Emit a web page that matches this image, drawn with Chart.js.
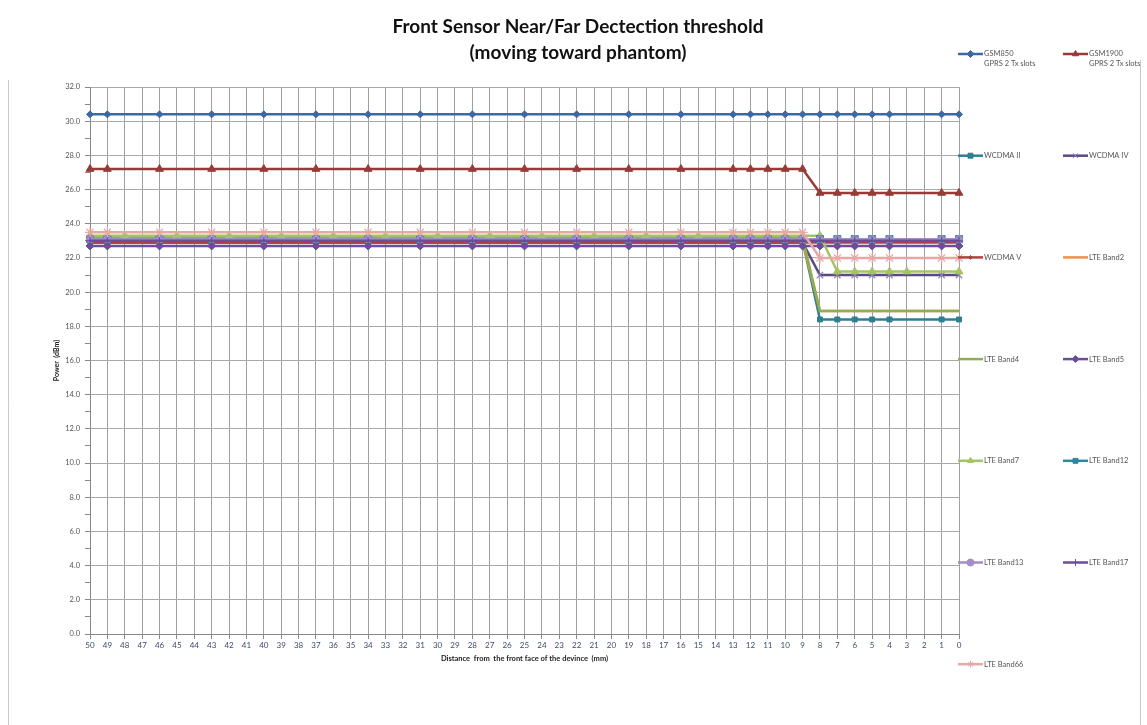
<!DOCTYPE html>
<html>
<head>
<meta charset="utf-8">
<script src="https://cdn.jsdelivr.net/npm/chart.js@4"></script>
<style>
	html, body { margin: 0; padding: 0; background: #fff; }
	#wrap { width: 1147px; height: 725px; position: relative; }
</style>
</head>
<body>
<div id="wrap"><canvas id="sensorChart"></canvas></div>
<script>
// distance labels, 50 mm down to 0 mm
const distances = [ 50, 49, 48, 47, 46, 45, 44, 43, 42, 41, 40, 39, 38, 37, 36, 35, 34, 33, 32, 31, 30, 29, 28, 27, 26,
	25, 24, 23, 22, 21, 20, 19, 18, 17, 16, 15, 14, 13, 12, 11, 10, 9, 8, 7, 6, 5, 4, 3, 2, 1, 0 ]
const yTicks = [ 0, 2, 4, 6, 8, 10, 12, 14, 16, 18, 20, 22, 24, 26, 28, 30, 32 ]

// measured distances (most bands) and the LTE Band7 set
const measuredAt = [ 50, 49, 46, 43, 40, 37, 34, 31, 28, 25, 22, 19, 16, 13, 12, 11, 10, 9, 8, 7, 6, 5, 4, 1, 0 ]
const band7At = [ 50, 48, 45, 42, 39, 36, 33, 30, 27, 24, 21, 18, 15, 12, 11, 10, 9, 8, 7, 6, 5, 4, 3, 0 ]

// power (dBm) per measured distance
const gsm850 = [ 30.4, 30.4, 30.4, 30.4, 30.4, 30.4, 30.4, 30.4, 30.4, 30.4, 30.4, 30.4, 30.4, 30.4, 30.4, 30.4, 30.4, 30.4, 30.4, 30.4, 30.4, 30.4, 30.4, 30.4, 30.4 ]
const gsm1900 = [ 27.2, 27.2, 27.2, 27.2, 27.2, 27.2, 27.2, 27.2, 27.2, 27.2, 27.2, 27.2, 27.2, 27.2, 27.2, 27.2, 27.2, 27.2, 25.8, 25.8, 25.8, 25.8, 25.8, 25.8, 25.8 ]
const wcdma2 = [ 23.0, 23.0, 23.0, 23.0, 23.0, 23.0, 23.0, 23.0, 23.0, 23.0, 23.0, 23.0, 23.0, 23.0, 23.0, 23.0, 23.0, 23.0, 18.4, 18.4, 18.4, 18.4, 18.4, 18.4, 18.4 ]
const wcdma4 = [ 22.9, 22.9, 22.9, 22.9, 22.9, 22.9, 22.9, 22.9, 22.9, 22.9, 22.9, 22.9, 22.9, 22.9, 22.9, 22.9, 22.9, 22.9, 21.0, 21.0, 21.0, 21.0, 21.0, 21.0, 21.0 ]
const wcdma5 = [ 22.9, 22.9, 22.9, 22.9, 22.9, 22.9, 22.9, 22.9, 22.9, 22.9, 22.9, 22.9, 22.9, 22.9, 22.9, 22.9, 22.9, 22.9, 22.9, 22.9, 22.9, 22.9, 22.9, 22.9, 22.9 ]
const lteBand2 = [ 23.0, 23.0, 23.0, 23.0, 23.0, 23.0, 23.0, 23.0, 23.0, 23.0, 23.0, 23.0, 23.0, 23.0, 23.0, 23.0, 23.0, 23.0, 18.9, 18.9, 18.9, 18.9, 18.9, 18.9, 18.9 ]
const lteBand4 = [ 23.2, 23.2, 23.2, 23.2, 23.2, 23.2, 23.2, 23.2, 23.2, 23.2, 23.2, 23.2, 23.2, 23.2, 23.2, 23.2, 23.2, 23.2, 18.9, 18.9, 18.9, 18.9, 18.9, 18.9, 18.9 ]
const lteBand5 = [ 22.7, 22.7, 22.7, 22.7, 22.7, 22.7, 22.7, 22.7, 22.7, 22.7, 22.7, 22.7, 22.7, 22.7, 22.7, 22.7, 22.7, 22.7, 22.7, 22.7, 22.7, 22.7, 22.7, 22.7, 22.7 ]
const lteBand7 = [ 23.3, 23.3, 23.3, 23.3, 23.3, 23.3, 23.3, 23.3, 23.3, 23.3, 23.3, 23.3, 23.3, 23.3, 23.3, 23.3, 23.3, 23.3, 21.2, 21.2, 21.2, 21.2, 21.2, 21.2 ]
const lteBand12 = [ 23.1, 23.1, 23.1, 23.1, 23.1, 23.1, 23.1, 23.1, 23.1, 23.1, 23.1, 23.1, 23.1, 23.1, 23.1, 23.1, 23.1, 23.1, 23.1, 23.1, 23.1, 23.1, 23.1, 23.1, 23.1 ]
const lteBand13 = [ 23.1, 23.1, 23.1, 23.1, 23.1, 23.1, 23.1, 23.1, 23.1, 23.1, 23.1, 23.1, 23.1, 23.1, 23.1, 23.1, 23.1, 23.1, 23.1, 23.1, 23.1, 23.1, 23.1, 23.1, 23.1 ]
const lteBand17 = [ 23.0, 23.0, 23.0, 23.0, 23.0, 23.0, 23.0, 23.0, 23.0, 23.0, 23.0, 23.0, 23.0, 23.0, 23.0, 23.0, 23.0, 23.0, 23.0, 23.0, 23.0, 23.0, 23.0, 23.0, 23.0 ]
const lteBand66 = [ 23.5, 23.5, 23.5, 23.5, 23.5, 23.5, 23.5, 23.5, 23.5, 23.5, 23.5, 23.5, 23.5, 23.5, 23.5, 23.5, 23.5, 23.5, 22.0, 22.0, 22.0, 22.0, 22.0, 22.0, 22.0 ]

const titleLines = [ 'Front Sensor Near/Far Dectection threshold', '(moving toward phantom)' ]

// place measured values on the full 50..0 category axis (gaps stay null)
const onAxis = (at, values) => distances.map(d => {
	const i = at.indexOf( d )
	return i < 0 ? null : values[i]
})

const series = [
	{ label: 'GSM850', sub: 'GPRS 2 Tx slots', data: onAxis( measuredAt, gsm850 ), color: '#3c68a3', style: 'rectRot', r: 3.5 },
	{ label: 'GSM1900', sub: 'GPRS 2 Tx slots', data: onAxis( measuredAt, gsm1900 ), color: '#983a37', style: 'triangle', r: 4.5 },
	{ label: 'WCDMA II', data: onAxis( measuredAt, wcdma2 ), color: '#2f7f92', style: 'rect', r: 3.5 },
	{ label: 'WCDMA IV', data: onAxis( measuredAt, wcdma4 ), color: '#5b4884', style: 'crossRot', r: 4.5, fill: '#8d7fb5' },
	{ label: 'WCDMA V', data: onAxis( measuredAt, wcdma5 ), color: '#b0413e', style: 'rectRot', r: 2 },
	{ label: 'LTE Band2', data: onAxis( measuredAt, lteBand2 ), color: '#f0924c', style: false, r: 0 },
	{ label: 'LTE Band4', data: onAxis( measuredAt, lteBand4 ), color: '#8cb04f', style: false, r: 0 },
	{ label: 'LTE Band5', data: onAxis( measuredAt, lteBand5 ), color: '#6a4e97', style: 'rectRot', r: 4 },
	{ label: 'LTE Band7', data: onAxis( band7At, lteBand7 ), color: '#a4c463', style: 'triangle', r: 4.5 },
	{ label: 'LTE Band12', data: onAxis( measuredAt, lteBand12 ), color: '#31879d', style: 'rect', r: 5 },
	{ label: 'LTE Band13', data: onAxis( measuredAt, lteBand13 ), color: '#a28dc6', style: 'circle', r: 3.5 },
	{ label: 'LTE Band17', data: onAxis( measuredAt, lteBand17 ), color: '#6b4c9a', style: 'cross', r: 4 },
	{ label: 'LTE Band66', data: onAxis( measuredAt, lteBand66 ), color: '#e6a8a6', style: 'star', r: 5 }
]

const fontFamily = 'Lato, "Liberation Sans", sans-serif'

// title centred on the whole canvas, excel-like legend in two columns
const sideLegend = {
	id: 'sideLegend',
	afterDraw (chart) {
		const ctx = chart.ctx
		ctx.save()
		ctx.fillStyle = '#111'
		ctx.font = 'bold 19px ' + fontFamily
		ctx.textAlign = 'center'
		ctx.textBaseline = 'middle'
		ctx.fillText( titleLines[0], 578, 27 )
		ctx.fillText( titleLines[1], 578, 53 )

		const cols = [ 958, 1063 ]
		const rowY = i => 54 + i * 101.7
		chart.data.datasets.forEach((ds, i) => {
			const x = cols[i % 2]
			const y = rowY( Math.floor( i / 2 ) )
			ctx.strokeStyle = ds.borderColor
			ctx.lineWidth = 2.5
			ctx.beginPath()
			ctx.moveTo( x, y )
			ctx.lineTo( x + 25, y )
			ctx.stroke()
			if (ds.pointStyle) {
				ctx.fillStyle = ds.pointBackgroundColor
				ctx.strokeStyle = ds.pointBorderColor
				ctx.lineWidth = 1
				Chart.helpers.drawPoint( ctx, { pointStyle: ds.pointStyle, radius: Math.min( ds.pointRadius, 3.5 ), rotation: 0, borderWidth: 1 }, x + 12.5, y )
			}
			ctx.fillStyle = '#555'
			ctx.font = '7.5px ' + fontFamily
			ctx.textBaseline = 'middle'
			ctx.textAlign = 'left'
			ctx.fillText( ds.label, x + 26, y )
			if (ds.sub) ctx.fillText( ds.sub, x + 26, y + 10 )
		})
		// faint outer frame pieces
		ctx.strokeStyle = '#c8c8c8'
		ctx.lineWidth = 1
		ctx.beginPath()
		ctx.moveTo( 8.5, 80 )
		ctx.lineTo( 8.5, 725 )
		ctx.moveTo( 1140.5, 60 )
		ctx.lineTo( 1140.5, 725 )
		ctx.stroke()
		ctx.restore()
	}
}

new Chart( document.getElementById( 'sensorChart' ), {
	type: 'line',
	data: {
		labels: distances,
		datasets: series.map((s, i) => ({
			label: s.label,
			sub: s.sub,
			data: s.data,
			borderColor: s.color,
			backgroundColor: s.color,
			borderWidth: 2.5,
			pointStyle: s.style,
			pointRadius: s.r,
			pointBackgroundColor: s.fill || s.color,
			pointBorderColor: s.fill || s.color,
			pointBorderWidth: s.style === 'crossRot' || s.style === 'cross' || s.style === 'star' ? 1.2 : 1,
			spanGaps: true,
			tension: 0,
			order: series.length - i
		}))
	},
	options: {
		responsive: true,
		maintainAspectRatio: false,
		animation: false,
		events: [],
		layout: {
			padding: { left: 8, right: 188, top: 87, bottom: 55 }
		},
		plugins: {
			legend: { display: false },
			tooltip: { enabled: false },
			title: { display: false }
		},
		scales: {
			x: {
				type: 'category',
				offset: false,
				grid: { color: '#a0a0a0', lineWidth: 1, tickLength: 5, tickColor: '#888' },
				border: { color: '#888' },
				ticks: {
					autoSkip: false,
					maxRotation: 0,
					padding: 2,
					color: '#3c4a6c',
					font: { family: fontFamily, size: 8 }
				},
				title: {
					display: true,
					text: 'Distance  from  the front face of the devince  (mm)',
					color: '#222',
					font: { family: fontFamily, size: 7.5, weight: 'bold' },
					padding: { top: 0, bottom: 6.5 }
				},
				afterFit: s => { s.height = 36 }
			},
			y: {
				min: 0,
				max: 32,
				grid: {
					color: c => c.tick && c.tick.value % 2 === 0 ? '#a8a8a8' : 'rgba(0,0,0,0)',
					lineWidth: 1,
					tickLength: 5,
					tickColor: '#888'
				},
				border: { color: '#888' },
				ticks: {
					stepSize: 1,
					autoSkip: false,
					padding: 5,
					color: '#555',
					font: { family: fontFamily, size: 7.5 },
					callback: v => yTicks.includes( v ) ? v.toFixed( 1 ) : ''
				},
				title: {
					display: true,
					text: 'Power  (dBm)',
					color: '#222',
					font: { family: fontFamily, size: 7, weight: 'bold' },
					padding: { top: 45, bottom: 0 }
				},
				afterFit: s => { s.width = 82 }
			}
		}
	},
	plugins: [ sideLegend ]
} )
</script>
</body>
</html>
